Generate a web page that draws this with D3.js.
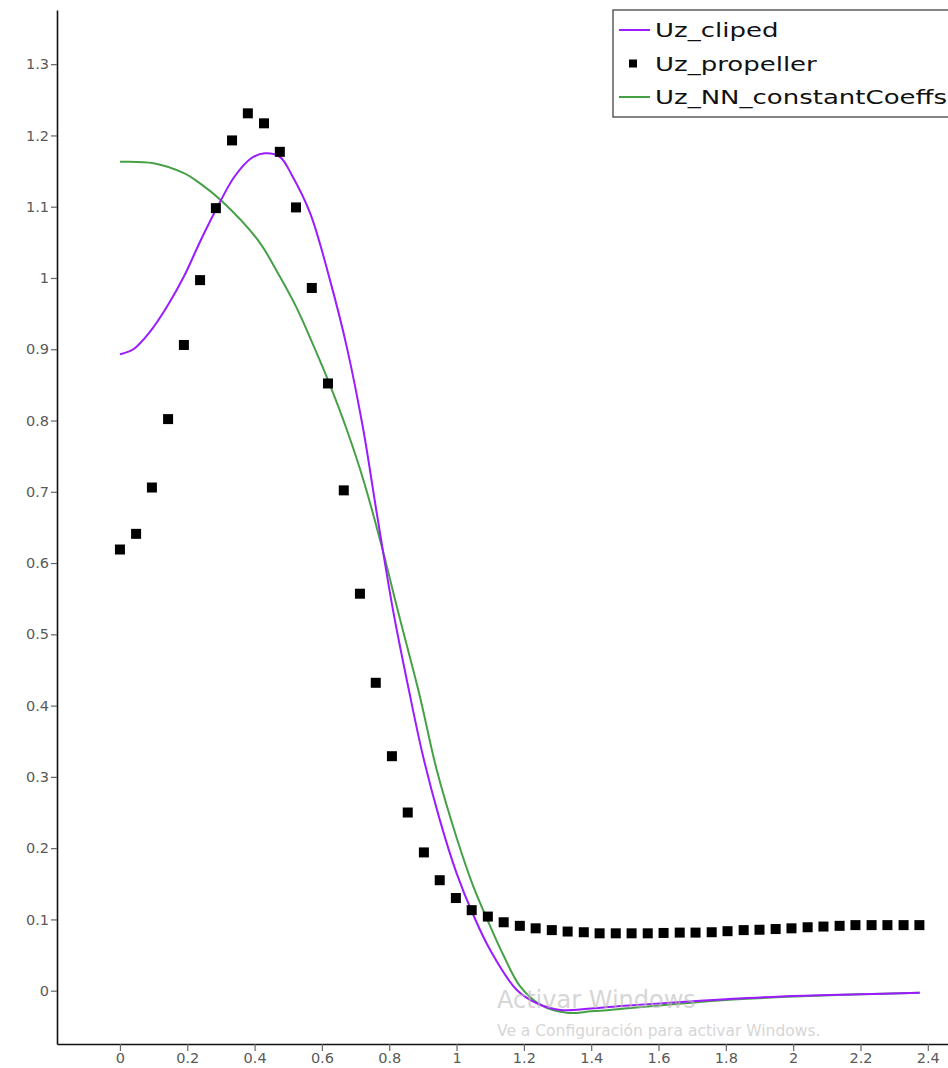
<!DOCTYPE html>
<html>
<head>
<meta charset="utf-8">
<script src="https://cdnjs.cloudflare.com/ajax/libs/d3/7.8.5/d3.min.js"></script>
<style>
    html, body { margin: 0; padding: 0; background: #fff; }
    svg { display: block; }
</style>
</head>
<body>
<div id="chart"></div>
<script>
// Uz_propeller (squares)
var propX = [0, 0.048, 0.095, 0.143, 0.19, 0.238, 0.285, 0.333, 0.38, 0.428,
    0.475, 0.523, 0.57, 0.618, 0.665, 0.713, 0.76, 0.808, 0.855, 0.903,
    0.95, 0.998, 1.045, 1.093, 1.14, 1.188, 1.235, 1.283, 1.33, 1.378,
    1.425, 1.473, 1.52, 1.568, 1.615, 1.663, 1.71, 1.758, 1.805, 1.853,
    1.9, 1.948, 1.995, 2.043, 2.09, 2.138, 2.185, 2.233, 2.28, 2.328, 2.375];
var propY = [0.619, 0.641, 0.706, 0.802, 0.906, 0.997, 1.098, 1.193, 1.231, 1.217,
    1.177, 1.099, 0.986, 0.852, 0.702, 0.557, 0.432, 0.329, 0.25, 0.194,
    0.155, 0.13, 0.113, 0.104, 0.096, 0.091, 0.0875, 0.085, 0.083, 0.082,
    0.0805, 0.0805, 0.0805, 0.0805, 0.081, 0.0815, 0.0815, 0.082, 0.0835, 0.085,
    0.0855, 0.0865, 0.0875, 0.089, 0.09, 0.091, 0.092, 0.092, 0.092, 0.092, 0.092];

// Uz_cliped (purple line)
var clipX = [0, 0.04, 0.09, 0.14, 0.19, 0.24, 0.29, 0.34, 0.39, 0.43,
    0.475, 0.51, 0.565, 0.624, 0.674, 0.723, 0.763, 0.812, 0.857, 0.9,
    0.95, 1.0, 1.05, 1.1, 1.179, 1.24, 1.308, 1.4,
    1.5, 1.668, 1.8, 1.965, 2.2, 2.376];
var clipY = [0.893, 0.9, 0.925, 0.96, 1.002, 1.053, 1.1, 1.142, 1.168, 1.175,
    1.17, 1.145, 1.091, 0.997, 0.903, 0.787, 0.67, 0.532, 0.425, 0.33,
    0.24, 0.165, 0.106, 0.057, 0.001, -0.018, -0.027, -0.025,
    -0.021, -0.016, -0.012, -0.008, -0.005, -0.003];

// Uz_NN_constantCoeffs (green line)
var nnX = [0, 0.1, 0.19, 0.24, 0.3, 0.41, 0.475, 0.525, 0.575, 0.622, 0.674,
    0.723, 0.773, 0.83, 0.89, 0.941, 1.0, 1.05, 1.094, 1.139, 1.189,
    1.25, 1.327, 1.4, 1.5, 1.668, 1.8, 1.965, 2.2, 2.376];
var nnY = [1.163, 1.161, 1.147, 1.132, 1.109, 1.053, 1.002, 0.958, 0.905, 0.852, 0.787,
    0.717, 0.632, 0.525, 0.415, 0.31, 0.215, 0.146, 0.097, 0.05, 0.006,
    -0.02, -0.031, -0.029, -0.025, -0.018, -0.013, -0.009, -0.005, -0.003];

var xTicks = [0, 0.2, 0.4, 0.6, 0.8, 1, 1.2, 1.4, 1.6, 1.8, 2, 2.2, 2.4];
var yTicks = [0, 0.1, 0.2, 0.3, 0.4, 0.5, 0.6, 0.7, 0.8, 0.9, 1, 1.1, 1.2, 1.3];
var legendNames = ["Uz_cliped", "Uz_propeller", "Uz_NN_constantCoeffs"];

function drawChart(w, h, name) {
    var svg = d3.select(name)
        .append("svg")
        .attr("width", w)
        .attr("height", h);

    // plot frame: y axis at x=57, x axis at y=1044
    var left = 57, top = 10, bottom = 1044, right = w;
    var x = d3.scaleLinear().domain([-0.187, 2.46]).range([left, right]);
    var y = d3.scaleLinear().domain([-0.0748, 1.376]).range([bottom, top]);

    var fmt = function (d) { return String(+d.toFixed(1)); };

    // 坐标轴
    var gx = svg.append("g")
        .attr("transform", "translate(0," + bottom + ")")
        .call(d3.axisBottom(x).tickValues(xTicks).tickFormat(fmt).tickSize(7).tickPadding(2).tickSizeOuter(0));
    var gy = svg.append("g")
        .attr("transform", "translate(" + left + ",0)")
        .call(d3.axisLeft(y).tickValues(yTicks).tickFormat(fmt).tickSize(6).tickSizeOuter(0));

    [gx, gy].forEach(function (g) {
        g.select(".domain").attr("stroke", "#111").attr("stroke-width", 1.6);
        g.selectAll(".tick line").attr("stroke", "#666").attr("stroke-width", 1.2);
        g.selectAll(".tick text")
            .attr("fill", "#5a5a5a")
            .attr("font-family", "DejaVu Sans, sans-serif")
            .attr("font-size", "14.5px");
    });
    gy.selectAll(".tick text").attr("x", -8);

    var line = d3.line()
        .x(function (d) { return x(d[0]); })
        .y(function (d) { return y(d[1]); })
        .curve(d3.curveCatmullRom.alpha(0.5));

    var clipData = clipX.map(function (v, i) { return [v, clipY[i]]; });
    var nnData = nnX.map(function (v, i) { return [v, nnY[i]]; });
    var propData = propX.map(function (v, i) { return [v, propY[i]]; });

    svg.append("path")
        .attr("d", line(nnData))
        .attr("fill", "none")
        .attr("stroke", "#46a046")
        .attr("stroke-width", 2);
    svg.append("path")
        .attr("d", line(clipData))
        .attr("fill", "none")
        .attr("stroke", "#9a1cff")
        .attr("stroke-width", 2);

    // 方块点
    var sq = 10;
    svg.selectAll("rect.pt")
        .data(propData)
        .enter()
        .append("rect")
        .attr("class", "pt")
        .attr("x", function (d) { return x(d[0]) - sq / 2; })
        .attr("y", function (d) { return y(d[1]) - sq / 2; })
        .attr("width", sq)
        .attr("height", sq)
        .attr("fill", "#000");

    // 图例
    var lg = svg.append("g").attr("transform", "translate(613,10)");
    lg.append("rect")
        .attr("x", 0).attr("y", 0)
        .attr("width", 360).attr("height", 107)
        .attr("fill", "#fff")
        .attr("stroke", "#444")
        .attr("stroke-width", 1.3);
    var rows = lg.selectAll("g.row")
        .data(legendNames)
        .enter()
        .append("g")
        .attr("class", "row")
        .attr("transform", function (d, i) { return "translate(0," + (20 + i * 33.5) + ")"; });
    rows.each(function (d, i) {
        var r = d3.select(this);
        if (i === 1) {
            r.append("rect").attr("x", 16).attr("y", -4).attr("width", 8).attr("height", 8).attr("fill", "#000");
        } else {
            r.append("line").attr("x1", 6).attr("x2", 37).attr("y1", 0).attr("y2", 0)
                .attr("stroke", i === 0 ? "#9a1cff" : "#46a046").attr("stroke-width", 2);
        }
        r.append("text")
            .attr("transform", "translate(42,7) scale(1.3,1)")
            .attr("font-family", "DejaVu Sans, sans-serif")
            .attr("font-size", "20px")
            .attr("fill", "#111")
            .text(d);
    });

    // windows watermark
    svg.append("text")
        .attr("x", 497).attr("y", 1008)
        .attr("font-family", "DejaVu Sans, sans-serif")
        .attr("font-size", "24px")
        .attr("fill", "#bbb")
        .attr("opacity", 0.6)
        .text("Activar Windows");
    svg.append("text")
        .attr("x", 497).attr("y", 1036)
        .attr("font-family", "DejaVu Sans, sans-serif")
        .attr("font-size", "15.5px")
        .attr("fill", "#bbb")
        .attr("opacity", 0.6)
        .text("Ve a Configuración para activar Windows.");
}

drawChart(948, 1068, "#chart");
</script>
</body>
</html>
